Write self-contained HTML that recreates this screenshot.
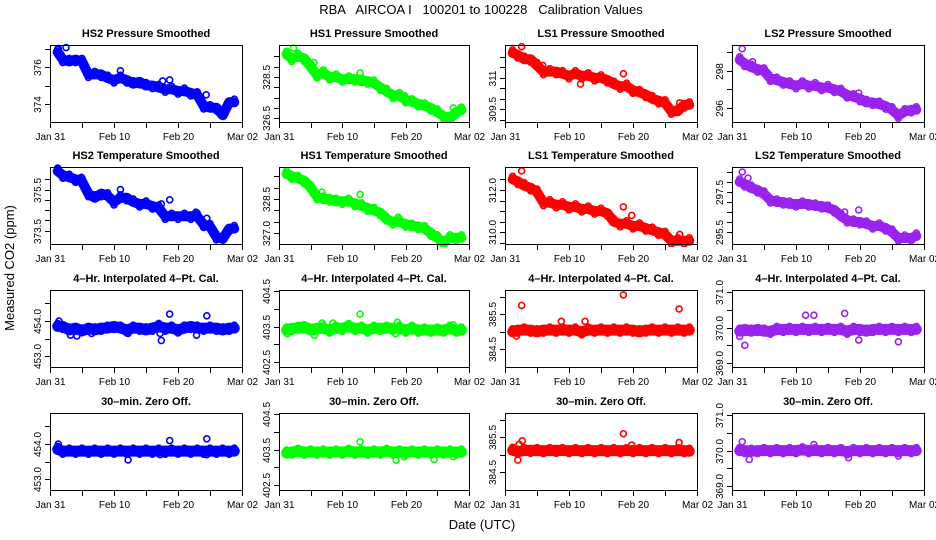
<!DOCTYPE html>
<html><head><meta charset="utf-8">
<style>
html,body{margin:0;padding:0;background:#fff;}
svg{display:block;font-family:"Liberation Sans",Arial,sans-serif;}
</style></head>
<body>
<svg id="chart" width="936" height="540" viewBox="0 0 936 540" xmlns="http://www.w3.org/2000/svg">
<rect x="0" y="0" width="936" height="540" fill="#fff"/>
<text x="481" y="14" font-size="13" text-anchor="middle" xml:space="preserve">RBA   AIRCOA I   100201 to 100228   Calibration Values</text>
<text transform="translate(14,268) rotate(-90)" font-size="13" text-anchor="middle">Measured CO2 (ppm)</text>
<text x="482" y="529" font-size="13" text-anchor="middle">Date (UTC)</text>
</svg>
<script>
const days = [1.2,2,3,4,5,6,7,8,9,10,11,12,13,14,15,16,17,18,19,20,21,22,23,24,25,26,27,28,28.8];
const xTickDays = [0,5,10,15,20,25,30];
const xTickLabels = ["Jan 31","","Feb 10","","Feb 20","","Mar 02"];

const hs2Pressure = [376.8,376.4,376.3,376.4,376.3,375.6,375.6,375.6,375.4,375.3,375.4,375.3,375.1,375.2,375.0,375.0,374.9,374.8,374.8,374.7,374.7,374.6,374.5,373.9,373.8,373.8,373.4,374.1,374.1];
const hs1Pressure = [329.6,329.4,329.5,329.4,329.0,328.6,328.7,328.5,328.5,328.4,328.4,328.4,328.3,328.3,328.2,328.0,327.8,327.6,327.6,327.4,327.3,327.2,327.1,327.0,326.8,326.6,326.5,326.8,326.9];
const ls1Pressure = [312.2,312.1,311.9,311.9,311.6,311.3,311.3,311.3,311.2,311.1,311.2,311.1,311.1,311.0,311.0,310.9,310.7,310.6,310.6,310.4,310.3,310.2,310.0,309.9,309.8,309.4,309.4,309.7,309.7];
const ls2Pressure = [298.6,298.4,298.2,298.1,298.0,297.6,297.5,297.4,297.3,297.2,297.3,297.2,297.2,297.1,297.1,297.0,296.9,296.7,296.6,296.5,296.3,296.3,296.2,296.1,295.9,295.6,295.8,295.9,295.9];
const hs2Temp = [376.4,376.2,376.1,376.0,375.9,375.3,375.1,375.3,375.2,374.9,375.1,375.1,374.9,374.8,374.8,374.7,374.6,374.2,374.2,374.2,374.2,374.2,374.2,373.8,373.7,373.2,373.1,373.6,373.6];
const hs1Temp = [329.6,329.5,329.4,329.3,329.0,328.6,328.5,328.5,328.4,328.4,328.4,328.3,328.2,328.1,328.0,327.9,327.6,327.5,327.5,327.4,327.3,327.3,327.2,327.0,326.8,326.6,326.8,326.8,326.8];
const ls1Temp = [312.5,312.4,312.2,312.1,311.9,311.4,311.4,311.3,311.3,311.2,311.2,311.1,311.1,311.0,311.0,310.9,310.5,310.4,310.4,310.3,310.3,310.2,310.1,310.0,309.9,309.6,309.6,309.6,309.6];
const ls2Temp = [298.0,297.9,297.7,297.6,297.4,297.1,297.0,297.0,296.9,296.9,296.9,296.9,296.8,296.8,296.7,296.6,296.3,296.1,296.0,296.0,295.9,295.8,295.8,295.7,295.5,295.2,295.2,295.2,295.3];
const hs2Cal = [453.85,453.85,453.75,453.8,453.72,453.8,453.75,453.8,453.8,453.85,453.8,453.75,453.8,453.8,453.75,453.8,453.85,453.8,453.8,453.75,453.8,453.85,453.8,453.8,453.8,453.8,453.75,453.8,453.8];
const hs1Cal = [403.4,403.45,403.45,403.5,403.4,403.45,403.45,403.4,403.45,403.45,403.5,403.45,403.45,403.4,403.45,403.45,403.45,403.45,403.45,403.4,403.45,403.4,403.4,403.4,403.4,403.4,403.45,403.4,403.4];
const ls1Cal = [385.0,385.05,385.05,385.05,385.0,385.05,385.05,385.05,385.05,385.05,385.05,385.0,385.05,385.05,385.05,385.05,385.05,385.05,385.05,385.05,385.0,385.05,385.05,385.05,385.05,385.05,385.05,385.05,385.05];
const ls2Cal = [369.9,369.95,369.9,369.95,369.9,369.9,369.95,369.95,369.95,369.95,369.95,369.95,369.95,369.95,369.95,369.95,369.95,369.9,369.95,369.95,369.9,369.95,369.95,369.95,369.95,369.95,369.95,369.95,369.95];
const hs2Zero = [453.85,453.8,453.8,453.8,453.8,453.8,453.8,453.8,453.8,453.8,453.8,453.8,453.8,453.8,453.8,453.8,453.8,453.8,453.8,453.8,453.8,453.8,453.8,453.8,453.8,453.8,453.8,453.8,453.8];
const hs1Zero = [403.4,403.43,403.45,403.43,403.43,403.43,403.43,403.43,403.43,403.43,403.45,403.43,403.43,403.43,403.43,403.43,403.45,403.43,403.43,403.43,403.43,403.43,403.43,403.43,403.43,403.43,403.43,403.43,403.43];
const ls1Zero = [385.13,385.1,385.12,385.13,385.12,385.12,385.12,385.13,385.12,385.12,385.12,385.12,385.12,385.12,385.12,385.12,385.12,385.12,385.12,385.12,385.12,385.12,385.12,385.12,385.12,385.12,385.12,385.12,385.1];
const ls2Zero = [370.0,370.0,369.98,370.0,370.0,370.0,370.0,370.0,370.0,370.0,370.02,370.0,370.0,370.0,370.0,370.0,370.0,369.97,370.0,370.0,370.0,370.0,370.0,370.0,370.0,370.0,370.0,370.0,370.0];

const hs2PressureOut = [[1.3,377.0],[2.5,377.05],[11,375.8],[17.6,375.25],[18.7,375.3],[24.4,374.5]];
const hs1PressureOut = [[2.3,329.9],[5.5,329.2],[12.8,328.7],[19.8,327.6],[27.5,327.0]];
const ls1PressureOut = [[2.6,312.5],[5.9,311.6],[11.8,310.7],[18.5,311.2],[27.3,309.8]];
const ls2PressureOut = [[1.6,299.2],[3.2,298.5],[19.8,296.8]];
const hs2TempOut = [[1.3,376.5],[4.9,376.1],[11,375.5],[17.4,374.8],[18.7,375.0],[22.8,374.4],[24.5,374.1]];
const hs1TempOut = [[6.8,328.8],[12.8,328.7],[18.8,327.7]];
const ls1TempOut = [[2.6,312.9],[18.5,311.2],[19.8,310.8],[27.3,309.9]];
const ls2TempOut = [[1.6,298.5],[2.5,298.2],[17.6,296.5],[19.8,296.6]];
const hs2CalOut = [[1.4,454.0],[3.2,453.6],[4.2,453.58],[6.5,453.65],[12.2,453.65],[17.2,453.65],[17.4,453.45],[18.7,454.2],[24.5,454.15],[22.9,453.6]];
const hs1CalOut = [[1.3,403.3],[5.6,403.25],[6.8,403.6],[8.5,403.6],[12.8,403.85],[18.7,403.62],[18.4,403.3],[27.5,403.55]];
const ls1CalOut = [[2.6,385.75],[18.5,386.05],[27.2,385.65],[1.8,384.88],[12.5,385.3],[8.8,385.3]];
const ls2CalOut = [[1.2,369.75],[2,369.5],[17.6,370.4],[11.5,370.35],[12.8,370.35],[19.8,369.65],[26,369.6]];
const hs2ZeroOut = [[1.3,454.0],[12.2,453.55],[17.2,453.7],[18.7,454.1],[24.5,454.15],[24.5,453.7]];
const hs1ZeroOut = [[12.8,403.72],[18.5,403.2],[24.5,403.22],[27.5,403.3],[19.8,403.3]];
const ls1ZeroOut = [[2,384.85],[2.7,385.4],[18.5,385.6],[19.8,385.28],[27.2,385.35],[2.2,385.3]];
const ls2ZeroOut = [[1.6,370.25],[2.7,369.75],[12.8,370.17],[18.2,369.8],[26,369.85]];

const panels = [
 {name:"hs2-pressure",title:"HS2 Pressure Smoothed",col:0,row:0,color:"#0000ff",vals:hs2Pressure,out:hs2PressureOut,ymin:373.03,ymax:377.19,ticks:[374,375,376,377],labels:["374","","376",""]},
 {name:"hs1-pressure",title:"HS1 Pressure Smoothed",col:1,row:0,color:"#00ff00",vals:hs1Pressure,out:hs1PressureOut,ymin:326.32,ymax:330.05,ticks:[326.5,327,327.5,328,328.5,329,329.5],labels:["326.5","","","","328.5","",""]},
 {name:"ls1-pressure",title:"LS1 Pressure Smoothed",col:2,row:0,color:"#ff0000",vals:ls1Pressure,out:ls1PressureOut,ymin:308.88,ymax:312.58,ticks:[309,309.5,310,310.5,311,311.5,312],labels:["","309.5","","","311","",""]},
 {name:"ls2-pressure",title:"LS2 Pressure Smoothed",col:3,row:0,color:"#9a22ee",vals:ls2Pressure,out:ls2PressureOut,ymin:295.24,ymax:299.4,ticks:[296,297,298,299],labels:["296","","298",""]},
 {name:"hs2-temperature",title:"HS2 Temperature Smoothed",col:0,row:1,color:"#0000ff",vals:hs2Temp,out:hs2TempOut,ymin:372.85,ymax:376.6,ticks:[373.5,374,374.5,375,375.5,376],labels:["373.5","","","","375.5",""]},
 {name:"hs1-temperature",title:"HS1 Temperature Smoothed",col:1,row:1,color:"#00ff00",vals:hs1Temp,out:hs1TempOut,ymin:326.53,ymax:329.9,ticks:[327,327.5,328,328.5,329,329.5],labels:["327.0","","","328.5","",""]},
 {name:"ls1-temperature",title:"LS1 Temperature Smoothed",col:2,row:1,color:"#ff0000",vals:ls1Temp,out:ls1TempOut,ymin:309.45,ymax:313.08,ticks:[309.5,310,310.5,311,311.5,312,312.5],labels:["","310.0","","","","312.0",""]},
 {name:"ls2-temperature",title:"LS2 Temperature Smoothed",col:3,row:1,color:"#9a22ee",vals:ls2Temp,out:ls2TempOut,ymin:294.9,ymax:298.75,ticks:[295.5,296,296.5,297,297.5,298,298.5],labels:["295.5","","","","297.5","",""]},
 {name:"hs2-calibration",title:"4\u2013Hr. Interpolated 4\u2013Pt. Cal.",col:0,row:2,color:"#0000ff",vals:hs2Cal,out:hs2CalOut,ymin:452.7,ymax:454.88,ticks:[453,453.5,454,454.5],labels:["453.0","","454.0",""]},
 {name:"hs1-calibration",title:"4\u2013Hr. Interpolated 4\u2013Pt. Cal.",col:1,row:2,color:"#00ff00",vals:hs1Cal,out:hs1CalOut,ymin:402.36,ymax:404.53,ticks:[402.5,403,403.5,404,404.5],labels:["402.5","","403.5","","404.5"]},
 {name:"ls1-calibration",title:"4\u2013Hr. Interpolated 4\u2013Pt. Cal.",col:2,row:2,color:"#ff0000",vals:ls1Cal,out:ls1CalOut,ymin:384.0,ymax:386.19,ticks:[384.5,385,385.5,386],labels:["384.5","","385.5",""]},
 {name:"ls2-calibration",title:"4\u2013Hr. Interpolated 4\u2013Pt. Cal.",col:3,row:2,color:"#9a22ee",vals:ls2Cal,out:ls2CalOut,ymin:368.89,ymax:371.06,ticks:[369,369.5,370,370.5,371],labels:["369.0","","370.0","","371.0"]},
 {name:"hs2-zero-offset",title:"30\u2013min. Zero Off.",col:0,row:3,color:"#0000ff",vals:hs2Zero,out:hs2ZeroOut,ymin:452.7,ymax:454.88,ticks:[453,453.5,454,454.5],labels:["453.0","","454.0",""]},
 {name:"hs1-zero-offset",title:"30\u2013min. Zero Off.",col:1,row:3,color:"#00ff00",vals:hs1Zero,out:hs1ZeroOut,ymin:402.36,ymax:404.53,ticks:[402.5,403,403.5,404,404.5],labels:["402.5","","403.5","","404.5"]},
 {name:"ls1-zero-offset",title:"30\u2013min. Zero Off.",col:2,row:3,color:"#ff0000",vals:ls1Zero,out:ls1ZeroOut,ymin:384.0,ymax:386.19,ticks:[384.5,385,385.5,386],labels:["384.5","","385.5",""]},
 {name:"ls2-zero-offset",title:"30\u2013min. Zero Off.",col:3,row:3,color:"#9a22ee",vals:ls2Zero,out:ls2ZeroOut,ymin:368.89,ymax:371.06,ticks:[369,369.5,370,370.5,371],labels:["369.0","","370.0","","371.0"]}
];

const colLeft = [50,279,505,732];
const colWidth = [192,190,192,192];
const rowTop = [45,167,290,413];
const boxH = 77;
const NS = "http://www.w3.org/2000/svg";
const svg = document.getElementById("chart");

function mk(tag, attrs, parent){
  const e = document.createElementNS(NS, tag);
  for (const k in attrs) e.setAttribute(k, attrs[k]);
  (parent||svg).appendChild(e);
  return e;
}

panels.forEach(p => {
  const L = colLeft[p.col], W = colWidth[p.col], T = rowTop[p.row], B = T + boxH;
  const xs = d => L + d / 30 * W;
  const ys = v => T + (p.ymax - v) / (p.ymax - p.ymin) * boxH;
  const g = mk("g", {});
  
  
  const clipId = "clip-" + p.name;
  const cp = mk("clipPath", {id: clipId}, g);
  mk("rect", {x: L - 3, y: T - 3, width: W + 6, height: boxH + 6}, cp);

  const title = mk("text", {x: L + W / 2, y: T - 8, "font-size": 11, "font-weight": "bold", "text-anchor": "middle"}, g);
  title.textContent = p.title;
  
  

  const marks = mk("g", {"clip-path": "url(#" + clipId + ")"}, g);
  
  
  const flat = p.row >= 2;
  const pts = days.map((d, i) => xs(d).toFixed(1) + "," + ys(p.vals[i]).toFixed(1)).join(" ");
  const band = mk("polyline", {points: pts, fill: "none", stroke: p.color, "stroke-width": flat ? 11 : 10, "stroke-linejoin": "round", "stroke-linecap": "round"}, marks);
  
  
  days.forEach((d, i) => {
    const c = mk("circle", {cx: xs(d), cy: ys(p.vals[i]) + (i % 2 ? 3 : -3), r: 3, fill: "none", stroke: p.color, "stroke-width": 1.6}, marks);
    
    
  });
  p.out.forEach(o => {
    const c = mk("circle", {cx: xs(o[0]), cy: ys(o[1]), r: 3, fill: "none", stroke: p.color, "stroke-width": 1.6}, marks);
    
    
  });

  const box = mk("rect", {x: L + 0.5, y: T + 0.5, width: W, height: boxH, fill: "none", stroke: "#000", "stroke-width": 1}, g);
  
  

  xTickDays.forEach((d, i) => {
    const x = Math.round(xs(d)) + 0.5;
    const t = mk("line", {x1: x, x2: x, y1: B + 1, y2: B + 6, stroke: "#000"}, g);
    
    
    if (xTickLabels[i]) {
      const tx = mk("text", {x: x, y: B + 18, "font-size": 10, "text-anchor": "middle"}, g);
      tx.textContent = xTickLabels[i];
      
      
    }
  });
  p.ticks.forEach((v, i) => {
    const y = Math.round(ys(v)) + 0.5;
    const t = mk("line", {x1: L - 5, x2: L, y1: y, y2: y, stroke: "#000"}, g);
    
    
    if (p.labels[i]) {
      const tx = mk("text", {transform: "translate(" + (L - 9) + "," + y + ") rotate(-90)", "font-size": 10, "text-anchor": "middle"}, g);
      tx.textContent = p.labels[i];
      
      
    }
  });
});
</script>
</body></html>
